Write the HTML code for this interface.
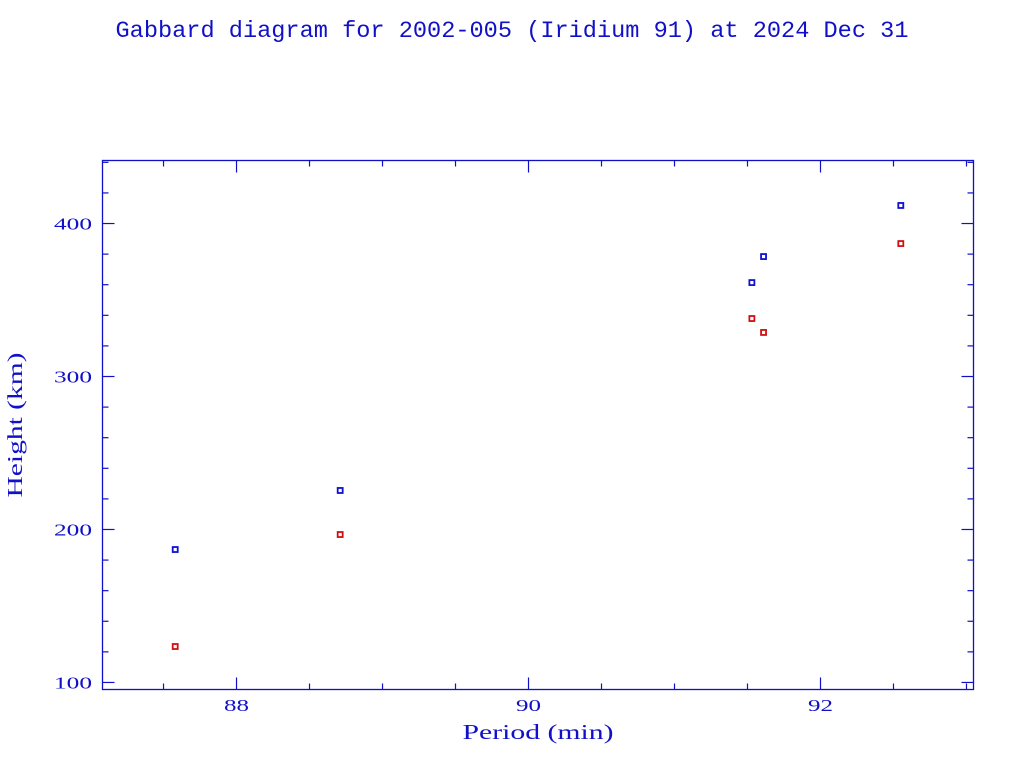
<!DOCTYPE html>
<html><head><meta charset="utf-8"><style>
body{margin:0;background:#fff;}
svg{display:block;font-family:"Liberation Serif",serif;}
</style></head><body>
<svg id="chart" width="1024" height="768">
<text x="512" y="37" text-anchor="middle" font-size="23" fill="#1010c8" textLength="793" lengthAdjust="spacingAndGlyphs" font-family="Liberation Mono, monospace">Gabbard diagram for 2002-005 (Iridium 91) at 2024 Dec 31</text>
<text x="538" y="739" text-anchor="middle" font-size="21" fill="#1010c8" textLength="151" lengthAdjust="spacingAndGlyphs">Period (min)</text>
<text transform="translate(22,425) rotate(-90)" text-anchor="middle" font-size="21" fill="#1010c8" textLength="145" lengthAdjust="spacingAndGlyphs">Height (km)</text>
<rect x="102.5" y="160.5" width="871" height="529" fill="none" stroke="#1010c8" stroke-width="1.3"/>
<g id="marks"></g>
</svg>
<script>
const periods = [87.58, 88.71, 91.53, 91.61, 92.55];
const apogees = [186.9, 225.5, 361.4, 378.4, 411.8];
const perigees = [123.5, 196.7, 337.9, 328.8, 386.9];
const xTickLabels = [88, 90, 92];
const yTickLabels = [100, 200, 300, 400];
const X0=102.5,X1=973.5,Y0=160.5,Y1=689.5;
const xmin=87.082,xmax=93.048,ymin=95.4,ymax=441.2;
const sx=v=>X0+(v-xmin)/(xmax-xmin)*(X1-X0);
const sy=v=>Y1-(v-ymin)/(ymax-ymin)*(Y1-Y0);
const NS='http://www.w3.org/2000/svg';
const g=document.getElementById('marks');
const C='#1010c8';
function line(x1,y1,x2,y2,name){const l=document.createElementNS(NS,'line');
l.setAttribute('x1',x1);l.setAttribute('y1',y1);l.setAttribute('x2',x2);l.setAttribute('y2',y2);
l.setAttribute('stroke',C);l.setAttribute('stroke-width','1.2');


g.appendChild(l);}
for(let v=87.5;v<=93.0;v+=0.5){const x=sx(v);const major=Math.abs(v-Math.round(v))<1e-6&&Math.round(v)%2===0;const L=major?12:6;
line(x,Y1,x,Y1-L,'x-tick');line(x,Y0,x,Y0+L,'x-tick');}
for(let v=100;v<=440;v+=20){const y=sy(v);const L=(v%100===0)?12:6;
line(X0,y,X0+L,y,'y-tick');line(X1,y,X1-L,y,'y-tick');}
xTickLabels.forEach(v=>{const t=document.createElementNS(NS,'text');t.setAttribute('x',sx(v));t.setAttribute('y',711);
t.setAttribute('text-anchor','middle');t.setAttribute('font-size','17');t.setAttribute('fill',C);t.textContent=v;
t.setAttribute('textLength','25');t.setAttribute('lengthAdjust','spacingAndGlyphs');


g.appendChild(t);});
yTickLabels.forEach(v=>{const t=document.createElementNS(NS,'text');t.setAttribute('x',92);t.setAttribute('y',sy(v)+6);
t.setAttribute('text-anchor','end');t.setAttribute('font-size','17');t.setAttribute('fill',C);t.textContent=v;
t.setAttribute('textLength','38');t.setAttribute('lengthAdjust','spacingAndGlyphs');


g.appendChild(t);});
function pt(p,h,col,name){const r=document.createElementNS(NS,'rect');
r.setAttribute('x',sx(p)-2.5);r.setAttribute('y',sy(h)-2.5);r.setAttribute('width',5);r.setAttribute('height',5);
r.setAttribute('fill','none');r.setAttribute('stroke',col);r.setAttribute('stroke-width','1.8');


g.appendChild(r);}
periods.forEach((p,i)=>{pt(p,apogees[i],'#1010d0','apogee-point');pt(p,perigees[i],'#d01010','perigee-point');});
</script>
</body></html>
